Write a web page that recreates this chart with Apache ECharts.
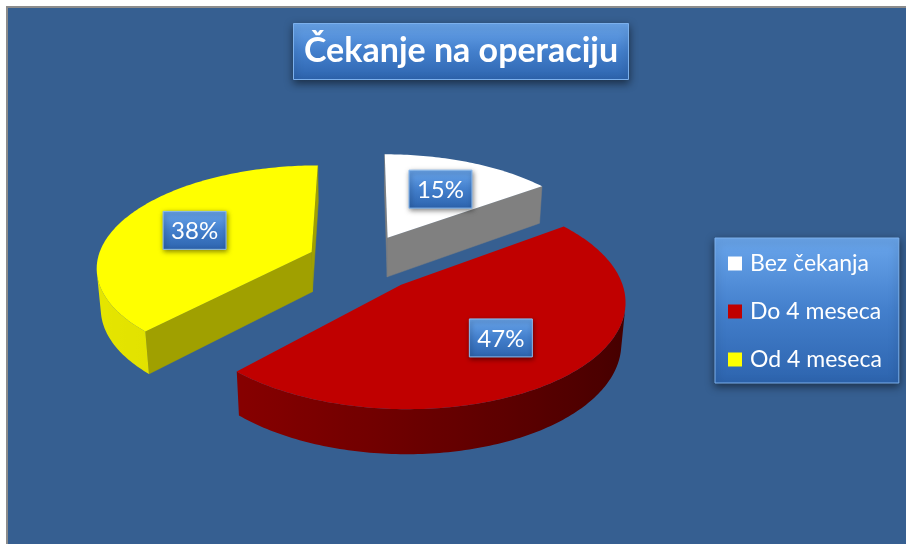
<!DOCTYPE html>
<html>
<head>
<meta charset="utf-8">
<script src="https://cdn.jsdelivr.net/npm/echarts@6/dist/echarts.min.js"></script>
<style>
html, body { margin: 0; padding: 0; background: #fff; }
#main { width: 906px; height: 544px; }
</style>
</head>
<body>
<div id="main"></div>
<script>
// kategorije i udeli (%)
var categories = ['Bez čekanja', 'Do 4 meseca', 'Od 4 meseca'];
var shares = [15, 47, 38];

// boje isecaka: gornja strana, ravni zid, obod (svetli -> tamni kraj)
var topColors = ['#ffffff', '#c00000', '#ffff00'];
var wallColors = ['#808080', '#6a0000', '#a0a000'];
var rimColors = [['#a0a0a0', '#707070'], ['#940000', '#440000'], ['#e6e600', '#cccc00']];

// 3D geometrija
var CX = 363, CY = 262.5, R = 215, H = 46;
var TILT = Math.asin(0.47), DIST = 1400;
var EXPLODE_X = 56, EXPLODE_Z = 61;
var LABEL_R = 0.62;

var total = shares.reduce(function (s, v) { return s + v; }, 0);
var startAngles = [];
var acc = 0;
shares.forEach(function (v) {
	startAngles.push(acc / total * Math.PI * 2);
	acc += v;
});

function project(x, y, z) {
	var c = Math.cos(TILT), s = Math.sin(TILT);
	var yv = y * c - z * s;
	var wv = y * s + z * c;
	var k = DIST / (DIST - wv);
	return [CX + k * x, CY - k * yv];
}

function sliceGeom(i) {
	var a0 = startAngles[i];
	var a1 = a0 + shares[i] / total * Math.PI * 2;
	var m = (a0 + a1) / 2;
	return { a0: a0, a1: a1, m: m, ox: EXPLODE_X * Math.sin(m), oz: -EXPLODE_Z * Math.cos(m) };
}

function point(g, r, th, y) {
	return project(g.ox + r * Math.sin(th), y, g.oz - r * Math.cos(th));
}

function area(pts) {
	var s = 0;
	for (var i = 0; i < pts.length; i++) {
		var p = pts[i], q = pts[(i + 1) % pts.length];
		s += p[0] * q[1] - q[0] * p[1];
	}
	return s;
}

function mixColor(c1, c2, t) {
	var a = parseInt(c1.slice(1), 16), b = parseInt(c2.slice(1), 16);
	var out = '#';
	[16, 8, 0].forEach(function (sh) {
		var v = Math.round(((a >> sh) & 255) * (1 - t) + ((b >> sh) & 255) * t);
		out += ('0' + v.toString(16)).slice(-2);
	});
	return out;
}

function buildSlice(i) {
	var g = sliceGeom(i);
	var children = [];

	//ravni zidovi, samo ako su okrenuti ka posmatracu
	var walls = [
		[point(g, 0, g.a0, 0), point(g, R, g.a0, 0), point(g, R, g.a0, -H), point(g, 0, g.a0, -H)],
		[point(g, R, g.a1, 0), point(g, 0, g.a1, 0), point(g, 0, g.a1, -H), point(g, R, g.a1, -H)]
	];
	walls.forEach(function (pts) {
		if (area(pts) < 0) {
			children.push({ type: 'polygon', shape: { points: pts }, style: { fill: wallColors[i], stroke: wallColors[i], lineWidth: 0.5 } });
		}
	});

	//vidljivi deo oboda
	var n = Math.ceil((g.a1 - g.a0) / (Math.PI / 180));
	var lo = null, hi = null;
	for (var j = 0; j < n; j++) {
		var t0 = g.a0 + (g.a1 - g.a0) * j / n;
		var t1 = g.a0 + (g.a1 - g.a0) * (j + 1) / n;
		if (area([point(g, R, t0, 0), point(g, R, t1, 0), point(g, R, t1, -H), point(g, R, t0, -H)]) < 0) {
			if (lo === null) lo = t0;
			hi = t1;
		}
	}
	if (lo !== null) {
		var up = [], down = [], stops = [];
		var steps = Math.max(2, Math.ceil((hi - lo) / (Math.PI / 180)));
		for (var s = 0; s <= steps; s++) {
			var t = lo + (hi - lo) * s / steps;
			up.push(point(g, R, t, 0));
			down.unshift(point(g, R, t, -H));
		}
		var xs = up.map(function (p) { return p[0]; });
		var minX = Math.min.apply(null, xs), maxX = Math.max.apply(null, xs);
		for (var q = 0; q <= steps; q += 4) {
			var tq = lo + (hi - lo) * q / steps;
			stops.push({
				offset: (up[q][0] - minX) / Math.max(1, maxX - minX),
				color: mixColor(rimColors[i][0], rimColors[i][1], (Math.sin(tq) + 1) / 2)
			});
		}
		stops.sort(function (a, b) { return a.offset - b.offset; });
		var fill = new echarts.graphic.LinearGradient(minX, 0, maxX, 0, stops, true);
		children.push({ type: 'polygon', shape: { points: up.concat(down) }, style: { fill: fill } });
	}

	var top = [point(g, 0, g.a0, 0)];
	for (var k = 0; k <= n; k++) {
		top.push(point(g, R, g.a0 + (g.a1 - g.a0) * k / n, 0));
	}
	children.push({ type: 'polygon', shape: { points: top }, style: { fill: topColors[i] } });
	return { type: 'group', children: children };
}

function blueBox() {
	return new echarts.graphic.LinearGradient(0, 0, 0, 1, [
		{ offset: 0, color: '#6aa6ec' },
		{ offset: 0.5, color: '#437fcc' },
		{ offset: 1, color: '#2d64ae' }
	]);
}

// redosled crtanja: zadnji isecci prvo
var depthRank = shares.map(function (v, i) { return -Math.cos(sliceGeom(i).m); });
var sorted = depthRank.slice().sort(function (a, b) { return a - b; });

var series = categories.map(function (name, i) {
	return {
		type: 'custom',
		name: name,
		coordinateSystem: 'none',
		silent: true,
		z: 2 + sorted.indexOf(depthRank[i]),
		itemStyle: { color: topColors[i] },
		data: [shares[i]],
		renderItem: function () { return buildSlice(i); }
	};
});

//oznake procenata
series.push({
	type: 'custom',
	coordinateSystem: 'none',
	silent: true,
	z: 10,
	data: shares,
	renderItem: function (params, api) {
		var g = sliceGeom(params.dataIndex);
		var c = point(g, R * LABEL_R, g.m, 0);
		var w = 63, h = 38;
		return {
			type: 'group',
			children: [{
				type: 'rect',
				shape: { x: c[0] - w / 2, y: c[1] - h / 2, width: w, height: h },
				style: { fill: blueBox(), stroke: '#8cbcf0', lineWidth: 1, shadowBlur: 5, shadowOffsetX: 1, shadowOffsetY: 2, shadowColor: 'rgba(0,0,0,0.55)' }
			}, {
				type: 'text',
				x: c[0], y: c[1] + 1,
				style: { text: Math.round(api.value(0) / total * 100) + '%', fill: '#fff', font: '24px Lato', align: 'center', verticalAlign: 'middle' }
			}]
		};
	}
});

var myChart = echarts.init(document.getElementById('main'));

option = {
	animation: false,
	backgroundColor: '#ffffff',
	graphic: [{
		type: 'rect',
		silent: true,
		z: 0,
		shape: { x: 7, y: 7, width: 910, height: 550 },
		style: { fill: '#365f91', stroke: '#8c8c8c', lineWidth: 2 }
	}],
	title: {
		text: 'Čekanje na operaciju',
		left: 293,
		top: 23,
		padding: [11, 11, 12, 11],
		backgroundColor: blueBox(),
		borderColor: '#7cb0ec',
		borderWidth: 1,
		shadowBlur: 8,
		shadowOffsetY: 3,
		shadowColor: 'rgba(0,0,0,0.5)',
		textStyle: { color: '#fff', fontSize: 34, fontWeight: 'bold', fontFamily: 'Lato' }
	},
	legend: {
		data: categories,
		orient: 'vertical',
		left: 715,
		top: 238,
		icon: 'rect',
		itemWidth: 14,
		itemHeight: 14,
		itemGap: 25,
		padding: [14, 17, 12, 13],
		selectedMode: false,
		backgroundColor: blueBox(),
		borderColor: '#7cb0ec',
		borderWidth: 1,
		shadowBlur: 8,
		shadowOffsetY: 3,
		shadowColor: 'rgba(0,0,0,0.5)',
		textStyle: { color: '#fff', fontSize: 23, fontFamily: 'Lato', padding: [0, 0, 0, 3] }
	},
	series: series
};

myChart.setOption(option);
</script>
</body>
</html>
